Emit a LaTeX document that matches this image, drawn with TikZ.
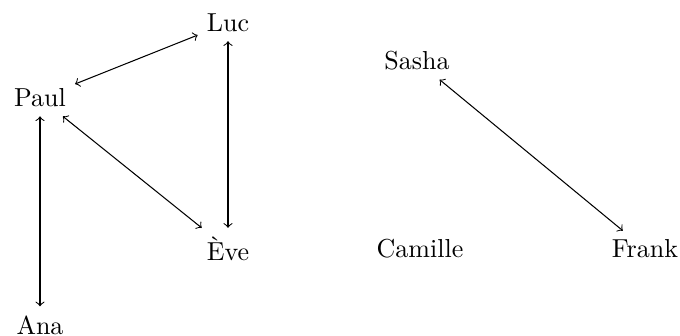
\documentclass[tikz,border=0pt]{standalone}
\begin{document}
\begin{tikzpicture}[x=0.3846pt,y=-0.3846pt,
  person/.style={inner sep=0.333em},
  link/.style={<->}]
\useasboundingbox (0,0) rectangle (680,336);
\node[person] (luc) at (228,23) {Luc};
\node[person] (paul) at (40,98) {Paul};
\node[person] (sasha) at (417,61) {Sasha};
\node[person] (eve) at (228,249) {Ève};
\node[person] (camille) at (420,249) {Camille};
\node[person] (frank) at (645,249) {Frank};
\node[person] (ana) at (40,325) {Ana};
\draw[link] (paul) -- (luc);
\draw[link] (luc) -- (eve);
\draw[link] (paul) -- (eve);
\draw[link] (paul) -- (ana);
\draw[link] (sasha) -- (frank);
\end{tikzpicture}
\end{document}
